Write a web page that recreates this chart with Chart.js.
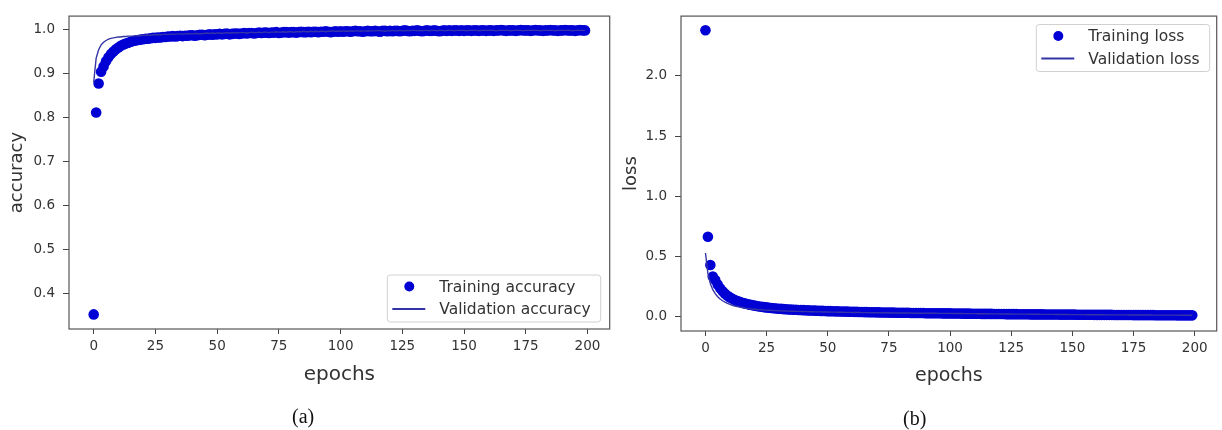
<!DOCTYPE html>
<html>
<head>
<meta charset="utf-8">
<script src="https://cdn.jsdelivr.net/npm/chart.js@4.4.1/dist/chart.umd.min.js"></script>
<style>
  body { margin: 0; background: #fff; width: 1222px; height: 430px; position: relative; overflow: hidden; }
  .panel { position: absolute; top: 0; height: 430px; }
  .cap { position: absolute; font-family: "Liberation Serif", "DejaVu Serif", serif; font-size: 20px; color: #111; }
</style>
</head>
<body>
<div class="panel" style="left:0;width:615px"><canvas id="accChart" width="615" height="430"></canvas></div>
<div class="panel" style="left:615px;width:607px"><canvas id="lossChart" width="607" height="430"></canvas></div>
<div class="cap" style="left:292px;top:405px">(a)</div>
<div class="cap" style="left:903px;top:407px">(b)</div>

<script>
// values, one per epoch (0..199)
var trainAcc = [
  0.352, 0.812, 0.878, 0.905, 0.917, 0.929, 0.938, 0.945, 0.951, 0.956,
  0.960, 0.964, 0.967, 0.969, 0.971, 0.973, 0.975, 0.976, 0.977, 0.978,
  0.979, 0.980, 0.980, 0.981, 0.982, 0.982, 0.983, 0.983, 0.984, 0.984,
  0.985, 0.985, 0.986, 0.985, 0.986, 0.987, 0.986, 0.987, 0.987, 0.988,
  0.988, 0.987, 0.988, 0.989, 0.989, 0.988, 0.989, 0.990, 0.989, 0.990,
  0.990, 0.991, 0.990, 0.991, 0.992, 0.990, 0.991, 0.992, 0.992, 0.991,
  0.992, 0.993, 0.992, 0.993, 0.993, 0.992, 0.993, 0.994, 0.993, 0.994,
  0.994, 0.993, 0.994, 0.994, 0.995, 0.993, 0.994, 0.995, 0.995, 0.994,
  0.995, 0.995, 0.994, 0.995, 0.996, 0.995, 0.995, 0.996, 0.995, 0.996,
  0.996, 0.995, 0.996, 0.996, 0.997, 0.996, 0.995, 0.996, 0.997, 0.996,
  0.997, 0.996, 0.997, 0.997, 0.996, 0.997, 0.998, 0.997, 0.997, 0.996,
  0.997, 0.998, 0.997, 0.997, 0.998, 0.997, 0.996, 0.998, 0.998, 0.997,
  0.998, 0.997, 0.998, 0.998, 0.997, 0.998, 0.999, 0.998, 0.997, 0.998,
  0.998, 0.999, 0.998, 0.997, 0.998, 0.999, 0.998, 0.998, 0.999, 0.998,
  0.997, 0.998, 0.999, 0.998, 0.999, 0.998, 0.999, 0.999, 0.998, 0.999,
  0.998, 0.999, 0.999, 0.998, 0.999, 0.999, 0.998, 0.999, 0.999, 0.998,
  0.999, 0.999, 0.998, 0.999, 0.999, 1.000, 0.999, 0.998, 0.999, 0.999,
  0.999, 0.998, 0.999, 1.000, 0.999, 0.999, 0.999, 0.998, 0.999, 1.000,
  0.999, 0.999, 0.998, 0.999, 0.999, 1.000, 0.999, 0.999, 0.998, 0.999,
  0.999, 1.000, 0.999, 0.999, 0.999, 0.998, 0.999, 1.000, 0.999, 0.999
];
var valAcc = [
  0.881, 0.936, 0.955, 0.966, 0.972, 0.976, 0.979, 0.981, 0.982, 0.983,
  0.984, 0.984, 0.985, 0.985, 0.986, 0.986, 0.986, 0.987, 0.987, 0.987,
  0.988, 0.988, 0.988, 0.988, 0.989, 0.989, 0.989, 0.989, 0.990, 0.990,
  0.990, 0.990, 0.991, 0.990, 0.991, 0.991, 0.990, 0.991, 0.992, 0.991,
  0.991, 0.992, 0.992, 0.991, 0.992, 0.992, 0.993, 0.992, 0.993, 0.992,
  0.993, 0.993, 0.992, 0.993, 0.994, 0.993, 0.993, 0.994, 0.993, 0.994,
  0.994, 0.994, 0.993, 0.994, 0.995, 0.994, 0.994, 0.995, 0.994, 0.995,
  0.995, 0.994, 0.995, 0.995, 0.996, 0.995, 0.995, 0.996, 0.995, 0.996,
  0.996, 0.995, 0.996, 0.996, 0.996, 0.997, 0.996, 0.996, 0.997, 0.996,
  0.997, 0.996, 0.997, 0.997, 0.996, 0.997, 0.997, 0.998, 0.997, 0.997,
  0.997, 0.998, 0.997, 0.997, 0.998, 0.997, 0.998, 0.998, 0.997, 0.998,
  0.998, 0.997, 0.998, 0.998, 0.998, 0.999, 0.998, 0.998, 0.997, 0.998,
  0.998, 0.999, 0.998, 0.998, 0.999, 0.998, 0.998, 0.999, 0.998, 0.999,
  0.999, 0.998, 0.999, 0.998, 0.999, 0.999, 0.998, 0.999, 0.999, 0.998,
  0.999, 0.999, 0.998, 0.999, 0.999, 0.999, 0.998, 0.999, 0.999, 0.999,
  0.999, 0.998, 0.999, 0.999, 0.999, 0.999, 0.998, 0.999, 0.999, 0.999,
  0.999, 0.999, 0.999, 0.998, 0.999, 0.999, 0.999, 0.999, 0.999, 0.998,
  0.999, 0.999, 0.999, 0.999, 0.998, 0.999, 0.999, 0.999, 0.999, 0.999,
  0.999, 0.998, 0.999, 0.999, 0.999, 0.999, 0.999, 0.998, 0.999, 0.999,
  0.999, 0.999, 0.999, 0.999, 0.998, 0.999, 0.999, 0.999, 0.999, 0.999
];
var trainLoss = [
  2.380, 0.665, 0.430, 0.335, 0.305, 0.268, 0.236, 0.212, 0.192, 0.175,
  0.161, 0.150, 0.140, 0.131, 0.124, 0.117, 0.111, 0.106, 0.101, 0.097,
  0.093, 0.089, 0.086, 0.083, 0.080, 0.078, 0.075, 0.073, 0.071, 0.069,
  0.067, 0.066, 0.064, 0.063, 0.061, 0.060, 0.059, 0.058, 0.057, 0.056,
  0.055, 0.054, 0.053, 0.052, 0.052, 0.051, 0.050, 0.049, 0.049, 0.048,
  0.047, 0.047, 0.046, 0.045, 0.045, 0.044, 0.044, 0.043, 0.043, 0.042,
  0.042, 0.041, 0.041, 0.040, 0.040, 0.039, 0.039, 0.038, 0.038, 0.038,
  0.037, 0.037, 0.036, 0.036, 0.036, 0.035, 0.035, 0.035, 0.034, 0.034,
  0.034, 0.033, 0.033, 0.033, 0.032, 0.032, 0.032, 0.031, 0.031, 0.031,
  0.030, 0.030, 0.030, 0.030, 0.029, 0.029, 0.029, 0.028, 0.028, 0.028,
  0.028, 0.027, 0.027, 0.027, 0.027, 0.026, 0.026, 0.026, 0.026, 0.025,
  0.025, 0.025, 0.025, 0.024, 0.024, 0.024, 0.024, 0.024, 0.023, 0.023,
  0.023, 0.023, 0.023, 0.022, 0.022, 0.022, 0.022, 0.022, 0.021, 0.021,
  0.021, 0.021, 0.021, 0.020, 0.020, 0.020, 0.020, 0.020, 0.020, 0.019,
  0.019, 0.019, 0.019, 0.019, 0.019, 0.018, 0.018, 0.018, 0.018, 0.018,
  0.018, 0.018, 0.017, 0.017, 0.017, 0.017, 0.017, 0.017, 0.017, 0.016,
  0.016, 0.016, 0.016, 0.016, 0.016, 0.016, 0.016, 0.015, 0.015, 0.015,
  0.015, 0.015, 0.015, 0.015, 0.015, 0.014, 0.014, 0.014, 0.014, 0.014,
  0.014, 0.014, 0.014, 0.014, 0.013, 0.013, 0.013, 0.013, 0.013, 0.013,
  0.013, 0.013, 0.013, 0.012, 0.012, 0.012, 0.012, 0.012, 0.012, 0.012
];
var valLoss = [
  0.530, 0.360, 0.275, 0.225, 0.192, 0.167, 0.148, 0.133, 0.121, 0.111,
  0.103, 0.096, 0.090, 0.085, 0.081, 0.077, 0.073, 0.070, 0.068, 0.065,
  0.063, 0.061, 0.059, 0.058, 0.056, 0.055, 0.054, 0.053, 0.052, 0.051,
  0.050, 0.049, 0.048, 0.048, 0.047, 0.046, 0.046, 0.045, 0.045, 0.044,
  0.044, 0.043, 0.043, 0.042, 0.042, 0.041, 0.041, 0.041, 0.040, 0.040,
  0.040, 0.039, 0.039, 0.039, 0.038, 0.038, 0.038, 0.037, 0.037, 0.037,
  0.036, 0.036, 0.036, 0.036, 0.035, 0.035, 0.035, 0.035, 0.034, 0.034,
  0.034, 0.034, 0.033, 0.033, 0.033, 0.033, 0.032, 0.032, 0.032, 0.032,
  0.031, 0.031, 0.031, 0.031, 0.031, 0.030, 0.030, 0.030, 0.030, 0.030,
  0.029, 0.029, 0.029, 0.029, 0.029, 0.028, 0.028, 0.028, 0.028, 0.028,
  0.028, 0.027, 0.027, 0.027, 0.027, 0.027, 0.026, 0.026, 0.026, 0.026,
  0.026, 0.025, 0.025, 0.025, 0.025, 0.025, 0.024, 0.024, 0.024, 0.024,
  0.024, 0.023, 0.023, 0.023, 0.023, 0.023, 0.022, 0.022, 0.022, 0.022,
  0.022, 0.022, 0.021, 0.021, 0.021, 0.021, 0.021, 0.020, 0.020, 0.020,
  0.020, 0.020, 0.020, 0.019, 0.019, 0.019, 0.019, 0.019, 0.019, 0.018,
  0.018, 0.018, 0.018, 0.018, 0.018, 0.018, 0.017, 0.017, 0.017, 0.017,
  0.017, 0.017, 0.017, 0.017, 0.016, 0.016, 0.016, 0.016, 0.016, 0.016,
  0.016, 0.016, 0.016, 0.015, 0.015, 0.015, 0.015, 0.015, 0.015, 0.015,
  0.015, 0.015, 0.015, 0.014, 0.014, 0.014, 0.014, 0.014, 0.014, 0.014,
  0.014, 0.014, 0.014, 0.014, 0.013, 0.013, 0.013, 0.013, 0.013, 0.013
];
var epochTicks = [0, 25, 50, 75, 100, 125, 150, 175, 200];
var accTicks = [0.4, 0.5, 0.6, 0.7, 0.8, 0.9, 1.0];
var lossTicks = [0.0, 0.5, 1.0, 1.5, 2.0];

var FONT = "'DejaVu Sans', sans-serif";
var DOT = "#0000d4";
var LINE = "#3434a6";

function points(values) {
  return values.map(function (v, i) { return { x: i, y: v }; });
}

var framePlugin = {
  id: "frame",
  afterDraw: function (chart) {
    var a = chart.chartArea, ctx = chart.ctx;
    ctx.save();
    ctx.strokeStyle = "#555";
    ctx.lineWidth = 1.2;
    ctx.strokeRect(a.left, a.top, a.right - a.left, a.bottom - a.top);
    ctx.restore();
  }
};

// matplotlib-style legend box inside the plot area
var boxLegend = {
  id: "boxLegend",
  afterDraw: function (chart, args, opts) {
    var ctx = chart.ctx, a = chart.chartArea;
    var sets = chart.data.datasets;
    ctx.save();
    ctx.font = "15.5px " + FONT;
    var textW = 0;
    sets.forEach(function (d) { textW = Math.max(textW, ctx.measureText(d.label).width); });
    var w = 5 + 33 + 14 + textW + 10, h = 11.5 + 22.5 + 13;
    var x, y;
    if (opts.corner === "br") { x = a.right - 9 - w; y = a.bottom - 7 - h; }
    else { x = a.right - 7 - w; y = a.top + 8.4; }
    ctx.fillStyle = "rgba(255,255,255,0.85)";
    ctx.strokeStyle = "#d0d0d0";
    ctx.lineWidth = 1;
    ctx.beginPath();
    ctx.roundRect(x, y, w, h, 3);
    ctx.fill();
    ctx.stroke();
    sets.forEach(function (d, i) {
      var cy = y + 11.5 + i * 22.5;
      if (d.showLine) {
        ctx.strokeStyle = d.borderColor;
        ctx.lineWidth = 2;
        ctx.beginPath();
        ctx.moveTo(x + 5, cy);
        ctx.lineTo(x + 38, cy);
        ctx.stroke();
      } else {
        ctx.fillStyle = d.backgroundColor;
        ctx.beginPath();
        ctx.arc(x + 22, cy, 5, 0, Math.PI * 2);
        ctx.fill();
      }
      ctx.fillStyle = "#333";
      ctx.textBaseline = "middle";
      ctx.fillText(d.label, x + 52, cy + 1);
    });
    ctx.restore();
  }
};

function makeChart(id, cfg) {
  var ctx = document.getElementById(id).getContext("2d");
  return new Chart(ctx, {
    type: "scatter",
    data: {
      datasets: [
        {
          label: cfg.trainLabel,
          data: points(cfg.train),
          showLine: false,
          backgroundColor: DOT,
          borderWidth: 0,
          pointRadius: 5.3,
          order: 1
        },
        {
          label: cfg.valLabel,
          data: points(cfg.val),
          showLine: true,
          borderColor: LINE,
          backgroundColor: LINE,
          borderWidth: 1.4,
          pointRadius: 0,
          order: 0
        }
      ]
    },
    options: {
      responsive: false,
      animation: false,
      layout: { padding: cfg.padding },
      plugins: {
        legend: { display: false },
        tooltip: { enabled: false },
        boxLegend: { corner: cfg.corner }
      },
      scales: {
        x: {
          type: "linear",
          min: -10,
          max: 209,
          afterBuildTicks: function (s) { s.ticks = epochTicks.map(function (v) { return { value: v }; }); },
          afterFit: function (s) { s.height = cfg.xHeight; },
          grid: { drawOnChartArea: false, drawTicks: true, tickLength: 5, color: "#444" },
          border: { display: false },
          ticks: { color: "#333", font: { family: FONT, size: 13.5 }, padding: 4, maxRotation: 0 },
          title: { display: true, text: "epochs", color: "#333", font: { family: FONT, size: cfg.xTitleSize }, padding: { top: 4, bottom: 4 } }
        },
        y: {
          type: "linear",
          min: cfg.yMin,
          max: cfg.yMax,
          afterBuildTicks: function (s) { s.ticks = cfg.yTicks.map(function (v) { return { value: v }; }); },
          afterFit: function (s) { s.width = cfg.yWidth; },
          grid: { drawOnChartArea: false, drawTicks: true, tickLength: 6, color: "#444" },
          border: { display: false },
          ticks: {
            color: "#333",
            font: { family: FONT, size: 13.5 },
            padding: 8,
            callback: function (v) { return v.toFixed(1); }
          },
          title: { display: true, text: cfg.yTitle, color: "#333", font: { family: FONT, size: 18 }, padding: { top: cfg.yTitlePad, bottom: 4 } }
        }
      }
    },
    plugins: [framePlugin, boxLegend]
  });
}

makeChart("accChart", {
  train: trainAcc, val: valAcc,
  trainLabel: "Training accuracy", valLabel: "Validation accuracy",
  yTicks: accTicks, yMin: 0.3187, yMax: 1.0316, yTitle: "accuracy",
  padding: { left: 0, top: 13, right: 3.3, bottom: 39 },
  yWidth: 69, xHeight: 62, xTitleSize: 20, yTitlePad: 7, corner: "br"
});

makeChart("lossChart", {
  train: trainLoss, val: valLoss,
  trainLabel: "Training loss", valLabel: "Validation loss",
  yTicks: lossTicks, yMin: -0.118, yMax: 2.497, yTitle: "loss",
  padding: { left: 0, top: 13, right: 1.3, bottom: 39 },
  yWidth: 66, xHeight: 60, xTitleSize: 19, yTitlePad: 6, corner: "tr"
});
</script>
</body>
</html>
